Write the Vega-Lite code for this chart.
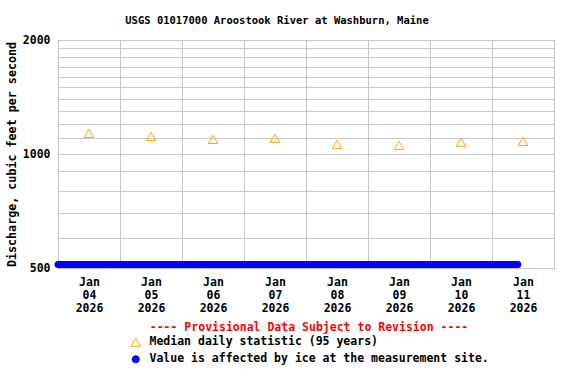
{
  "$schema": "https://vega.github.io/schema/vega-lite/v6.json",
  "width": 496,
  "height": 228,
  "autosize": {"type": "none"},
  "padding": {"left": 58, "top": 40, "right": 22, "bottom": 116},
  "background": "white",
  "title": {
    "text": "USGS 01017000 Aroostook River at Washburn, Maine",
    "font": "DejaVu Sans Mono",
    "fontSize": 10.5,
    "fontWeight": "bold",
    "color": "black",
    "anchor": "middle",
    "dx": -29,
    "offset": 8
  },
  "config": {
    "view": {"stroke": "black", "strokeWidth": 1},
    "axis": {
      "labelFont": "DejaVu Sans Mono",
      "labelFontWeight": "bold",
      "labelFontSize": 11.5,
      "labelColor": "black",
      "titleFont": "DejaVu Sans Mono",
      "titleFontWeight": "bold",
      "titleFontSize": 11.7,
      "titleColor": "black",
      "gridColor": "#c8c8c8",
      "gridOpacity": 1,
      "gridWidth": 1,
      "domain": false,
      "ticks": false
    }
  },
  "datasets": {
    "ice": [
      {"time": "2026-01-04T00:00:00", "discharge": 511, "series": "Value is affected by ice at the measurement site."},
      {"time": "2026-01-04T12:00:00", "discharge": 511, "series": "Value is affected by ice at the measurement site."},
      {"time": "2026-01-05T00:00:00", "discharge": 511, "series": "Value is affected by ice at the measurement site."},
      {"time": "2026-01-05T12:00:00", "discharge": 511, "series": "Value is affected by ice at the measurement site."},
      {"time": "2026-01-06T00:00:00", "discharge": 511, "series": "Value is affected by ice at the measurement site."},
      {"time": "2026-01-06T12:00:00", "discharge": 511, "series": "Value is affected by ice at the measurement site."},
      {"time": "2026-01-07T00:00:00", "discharge": 511, "series": "Value is affected by ice at the measurement site."},
      {"time": "2026-01-07T12:00:00", "discharge": 511, "series": "Value is affected by ice at the measurement site."},
      {"time": "2026-01-08T00:00:00", "discharge": 511, "series": "Value is affected by ice at the measurement site."},
      {"time": "2026-01-08T12:00:00", "discharge": 511, "series": "Value is affected by ice at the measurement site."},
      {"time": "2026-01-09T00:00:00", "discharge": 511, "series": "Value is affected by ice at the measurement site."},
      {"time": "2026-01-09T12:00:00", "discharge": 511, "series": "Value is affected by ice at the measurement site."},
      {"time": "2026-01-10T00:00:00", "discharge": 511, "series": "Value is affected by ice at the measurement site."},
      {"time": "2026-01-10T12:00:00", "discharge": 511, "series": "Value is affected by ice at the measurement site."},
      {"time": "2026-01-11T00:00:00", "discharge": 511, "series": "Value is affected by ice at the measurement site."},
      {"time": "2026-01-11T10:00:00", "discharge": 511, "series": "Value is affected by ice at the measurement site."}
    ],
    "median": [
      {"time": "2026-01-04T12:00:00", "discharge": 1134, "series": "Median daily statistic (95 years)"},
      {"time": "2026-01-05T12:00:00", "discharge": 1113, "series": "Median daily statistic (95 years)"},
      {"time": "2026-01-06T12:00:00", "discharge": 1093, "series": "Median daily statistic (95 years)"},
      {"time": "2026-01-07T12:00:00", "discharge": 1100, "series": "Median daily statistic (95 years)"},
      {"time": "2026-01-08T12:00:00", "discharge": 1061, "series": "Median daily statistic (95 years)"},
      {"time": "2026-01-09T12:00:00", "discharge": 1054, "series": "Median daily statistic (95 years)"},
      {"time": "2026-01-10T12:00:00", "discharge": 1074, "series": "Median daily statistic (95 years)"},
      {"time": "2026-01-11T12:00:00", "discharge": 1080, "series": "Median daily statistic (95 years)"}
    ]
  },
  "layer": [
    {
      "data": {"name": "ice"},
      "mark": {"type": "line", "strokeWidth": 7, "strokeCap": "round", "clip": false},
      "encoding": {
        "x": {
          "field": "time",
          "type": "temporal",
          "scale": {"domain": [{"year": 2026, "month": 1, "date": 4}, {"year": 2026, "month": 1, "date": 12}], "nice": false},
          "axis": {
            "orient": "top",
            "grid": true,
            "labels": false,
            "title": null,
            "values": [
              {"year": 2026, "month": 1, "date": 4}, {"year": 2026, "month": 1, "date": 5},
              {"year": 2026, "month": 1, "date": 6}, {"year": 2026, "month": 1, "date": 7},
              {"year": 2026, "month": 1, "date": 8}, {"year": 2026, "month": 1, "date": 9},
              {"year": 2026, "month": 1, "date": 10}, {"year": 2026, "month": 1, "date": 11},
              {"year": 2026, "month": 1, "date": 12}
            ]
          }
        },
        "y": {
          "field": "discharge",
          "type": "quantitative",
          "scale": {"type": "log", "domain": [500, 2000], "nice": false},
          "axis": {
            "values": [500, 600, 700, 800, 900, 1000, 1100, 1200, 1300, 1400, 1500, 1600, 1700, 1800, 1900, 2000],
            "labelExpr": "(datum.value == 500 || datum.value == 1000 || datum.value == 2000) ? format(datum.value, 'd') : ''",
            "title": "Discharge, cubic feet per second",
            "labelPadding": 8,
            "titlePadding": 5,
            "labelOverlap": false
          }
        },
        "color": {
          "field": "series",
          "type": "nominal",
          "scale": {
            "domain": ["Median daily statistic (95 years)", "Value is affected by ice at the measurement site."],
            "range": ["#ffa500", "#0000ff"]
          },
          "legend": {
            "orient": "none",
            "legendX": 72,
            "legendY": 282,
            "title": "---- Provisional Data Subject to Revision ----",
            "titleColor": "#ff0000",
            "titleFont": "DejaVu Sans Mono",
            "titleFontWeight": "bold",
            "titleFontSize": 11.5,
            "titleAnchor": "middle",
            "titleLimit": 600,
            "titlePadding": 3,
            "labelLimit": 600,
            "labelFont": "DejaVu Sans Mono",
            "labelFontWeight": "bold",
            "labelFontSize": 11.5,
            "labelColor": "black",
            "labelOffset": 8,
            "symbolSize": 90,
            "rowPadding": 4,
            "padding": 0,
            "encode": {
              "symbols": {
                "update": {
                  "shape": {"signal": "datum.value === 'Median daily statistic (95 years)' ? 'triangle-up' : 'circle'"},
                  "fill": {"signal": "datum.value === 'Median daily statistic (95 years)' ? 'transparent' : '#0000ff'"},
                  "stroke": {"signal": "datum.value === 'Median daily statistic (95 years)' ? '#ffa500' : '#0000ff'"},
                  "size": {"signal": "datum.value === 'Median daily statistic (95 years)' ? 90 : 50"},
                  "strokeWidth": {"value": 1},
                  "opacity": {"value": 1}
                }
              }
            }
          }
        }
      }
    },
    {
      "data": {"name": "median"},
      "mark": {"type": "point", "shape": "triangle-up", "filled": false, "size": 90, "strokeWidth": 1, "opacity": 1},
      "encoding": {
        "x": {
          "field": "time",
          "type": "temporal",
          "axis": {
            "orient": "bottom",
            "grid": false,
            "title": null,
            "labelPadding": 8,
            "labelBaseline": "top",
            "labelLineHeight": 13,
            "labelOverlap": false,
            "values": [
              {"year": 2026, "month": 1, "date": 4, "hours": 12}, {"year": 2026, "month": 1, "date": 5, "hours": 12},
              {"year": 2026, "month": 1, "date": 6, "hours": 12}, {"year": 2026, "month": 1, "date": 7, "hours": 12},
              {"year": 2026, "month": 1, "date": 8, "hours": 12}, {"year": 2026, "month": 1, "date": 9, "hours": 12},
              {"year": 2026, "month": 1, "date": 10, "hours": 12}, {"year": 2026, "month": 1, "date": 11, "hours": 12}
            ],
            "labelExpr": "[timeFormat(datum.value, '%b'), timeFormat(datum.value, '%d'), timeFormat(datum.value, '%Y')]"
          }
        },
        "y": {"field": "discharge", "type": "quantitative"},
        "color": {"field": "series", "type": "nominal"}
      }
    }
  ],
  "resolve": {"axis": {"x": "independent"}}
}
